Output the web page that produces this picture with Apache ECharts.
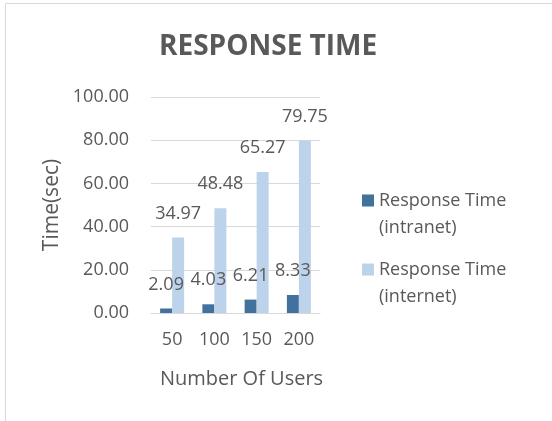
<!DOCTYPE html>
<html>
<head>
<meta charset="utf-8">
<script src="https://cdn.jsdelivr.net/npm/echarts@6/dist/echarts.min.js"></script>
<style>
  html, body { margin: 0; padding: 0; background: #fff; }
  #chart { width: 552px; height: 421px; }
</style>
</head>
<body>
<div id="chart"></div>
<script>
// 数据
var users = ['50', '100', '150', '200'];
var intranet = [2.09, 4.03, 6.21, 8.33];
var internet = [34.97, 48.48, 65.27, 79.75];
var seriesNames = ['Response Time (intranet)', 'Response Time (internet)'];

var textColor = '#595959';
var fontFamily = '"Open Sans", "Liberation Sans", sans-serif';

var chart = echarts.init(document.getElementById('chart'));

// 图例：两行文字，方块对齐第一行（图标框高 39，方块在顶部）
function legendFor(name, top) {
    return {
        data: [name],
        left: 357,
        top: top,
        itemWidth: 12,
        itemHeight: 39,
        itemGap: 0,
        icon: 'path://M0,0L12,0L12,12L0,12Z M0,39L12,39',
        formatter: function (n) {
            return n.replace(' (', '\n(');
        },
        textStyle: {
            color: textColor,
            fontFamily: fontFamily,
            fontSize: 18,
            lineHeight: 27
        }
    };
}

var labelStyle = {
    show: true,
    position: 'top',
    distance: 15,
    color: textColor,
    fontFamily: fontFamily,
    fontSize: 18,
    formatter: function (p) { return p.value.toFixed(2); }
};

var option = {
    animation: false,
    title: {
        text: 'RESPONSE TIME',
        left: 154,
        top: 28,
        textStyle: {
            color: textColor,
            fontFamily: fontFamily,
            fontWeight: 'bold',
            fontSize: 28
        }
    },
    graphic: [{
        type: 'rect',
        shape: { x: 5.5, y: 3.5, width: 600, height: 500 },
        style: { fill: 'none', stroke: '#d9d9d9', lineWidth: 1 },
        silent: true,
        z: -10
    }],
    legend: [
        legendFor(seriesNames[0], 182),
        legendFor(seriesNames[1], 251)
    ],
    grid: {
        left: 151,
        right: 232,
        top: 97,
        bottom: 108
    },
    xAxis: {
        type: 'category',
        data: users,
        name: 'Number Of Users',
        nameLocation: 'middle',
        nameGap: 56,
        nameTextStyle: { color: textColor, fontFamily: fontFamily, fontSize: 20, padding: [0, 0, 0, 12] },
        axisLine: { lineStyle: { color: '#d9d9d9', width: 1 } },
        axisTick: { show: false },
        axisLabel: { color: textColor, fontFamily: fontFamily, fontSize: 18, margin: 18 }
    },
    yAxis: {
        type: 'value',
        min: 0,
        max: 100,
        interval: 20,
        name: 'Time(sec)',
        nameLocation: 'middle',
        nameGap: 88,
        nameTruncate: { maxWidth: 300 },
        nameTextStyle: { color: textColor, fontFamily: fontFamily, fontSize: 21, width: 120, overflow: 'none' },
        axisLine: { show: false },
        axisTick: { show: false },
        splitLine: { lineStyle: { color: '#d9d9d9', width: 1 } },
        axisLabel: {
            color: textColor,
            fontFamily: fontFamily,
            fontSize: 18,
            margin: 22,
            formatter: function (v) { return v.toFixed(2); }
        }
    },
    series: [{
        name: seriesNames[0],
        type: 'bar',
        data: intranet,
        barWidth: 12,
        barGap: '0%',
        itemStyle: { color: '#41719c' },
        label: labelStyle
    }, {
        name: seriesNames[1],
        type: 'bar',
        data: internet,
        barWidth: 12,
        barGap: '0%',
        itemStyle: { color: '#bdd3ec' },
        label: labelStyle
    }]
};

chart.setOption(option);
</script>
</body>
</html>
